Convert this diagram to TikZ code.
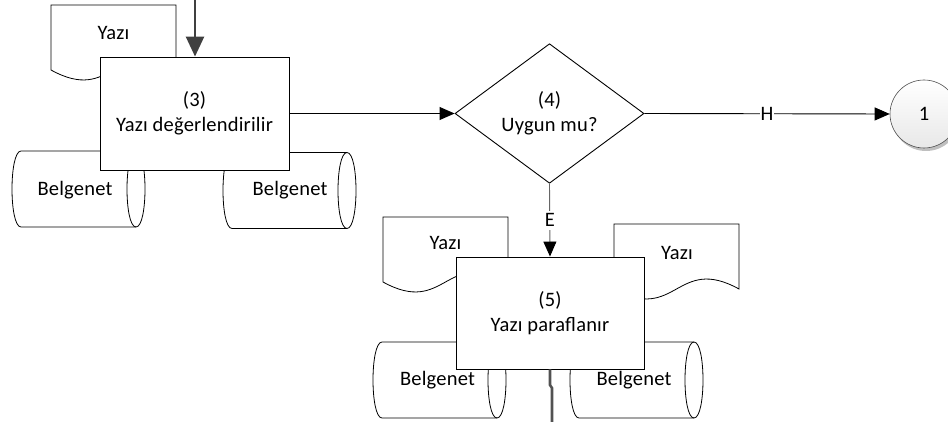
\documentclass[tikz,border=0pt]{standalone}
\usepackage{fontspec}
\setmainfont{Carlito}[LetterSpace=1]
\usetikzlibrary{shapes.geometric,arrows.meta,shadows}
\newcommand{\docshp}[2]{%
  \begin{scope}[shift={(#1,#2)}]
    \draw[shapeline] (0,0) -- (125,0) -- (125,65) .. controls (62.5,30.5) and (62.5,99.5) .. (0,65) -- cycle;
  \end{scope}}
\newcommand{\cylshp}[2]{%
  \begin{scope}[shift={(#1,#2)}]
    \draw[shapeline] (9,0) -- (124,0) .. controls (136,0) and (136,76) .. (124,76) -- (9,76) .. controls (-3,76) and (-3,0) .. (9,0) -- cycle;
    \draw[line width=0.8pt] (124,0) .. controls (112,0) and (112,76) .. (124,76);
  \end{scope}}
\begin{document}
\begin{tikzpicture}[x=1pt,y=-1pt,
  every node/.style={font=\fontsize{20.5}{25}\selectfont, inner sep=0pt},
  shapeline/.style={draw=black, fill=white, line width=0.8pt},
  proc/.style={draw=black, fill=white, line width=0.9pt, minimum width=189pt, minimum height=113pt, align=center},
  dec/.style={diamond, draw=black, fill=white, line width=0.9pt, minimum width=189pt, minimum height=113pt, align=center},
  conn/.style={circle, draw=black!70, line width=0.6pt, top color=white, bottom color=black!9, minimum size=68pt,
    drop shadow={shadow xshift=2pt, shadow yshift=-3pt, opacity=0.25, fill=black}},
  arr/.style={-{Triangle[length=15pt,width=13pt,color=black]}, line width=0.9pt},
  thickarr/.style={-{Triangle[length=20pt,width=18pt]}, line width=2.6pt, draw=black!75},
  thickline/.style={line width=2.6pt, draw=black!68},
  lbl/.style={fill=white, inner sep=1pt}
]
\useasboundingbox (0,0) rectangle (948,422);

% documents and storage shapes
\docshp{51}{5}
\node (t3doc) at (113.5,33) {Yazı};
\cylshp{12}{151}
\node (t3cylL) at (75,190) {Belgenet};
\cylshp{223}{152.5}
\node (t3cylR) at (290,190) {Belgenet};

\docshp{383}{217}
\node (t5docL) at (445.5,243) {Yazı};
\docshp{614}{224}
\node (t5docR) at (677,253) {Yazı};
\cylshp{373}{342}
\node (t5cylL) at (437.5,380) {Belgenet};
\cylshp{570}{342}
\node (t5cylR) at (634,380) {Belgenet};

% main nodes
\node[proc] (b3) at (194.5,113.5) {(3)\\Yazı değerlendirilir};
\node[dec] (d4) at (549.5,113.5) {(4)\\Uygun mu?};
\node[proc, minimum width=188pt, minimum height=112pt] (b5) at (550,313) {(5)\\Yazı paraflanır};
\node[conn] (c1) at (924,114) {1};

% connectors
\coordinate (in3) at (195,-5);
\draw[thickarr] (in3) -- (in3 |- b3.north);
\draw[arr] (b3.east) -- (d4.west);
\draw[arr] (d4.east) -- node[lbl] (lH) {H} (c1.west);
\draw[arr, draw=black!60] (d4.south) -- node[lbl, inner ysep=3pt] (lE) {E} (b5.north);
\coordinate (j1) at (550,385);
\coordinate (j2) at (552,388);
\coordinate (out5) at (552,426);
\draw[thickline] (b5.south) -- (j1) -- (j2) -- (out5);
\end{tikzpicture}
\end{document}
